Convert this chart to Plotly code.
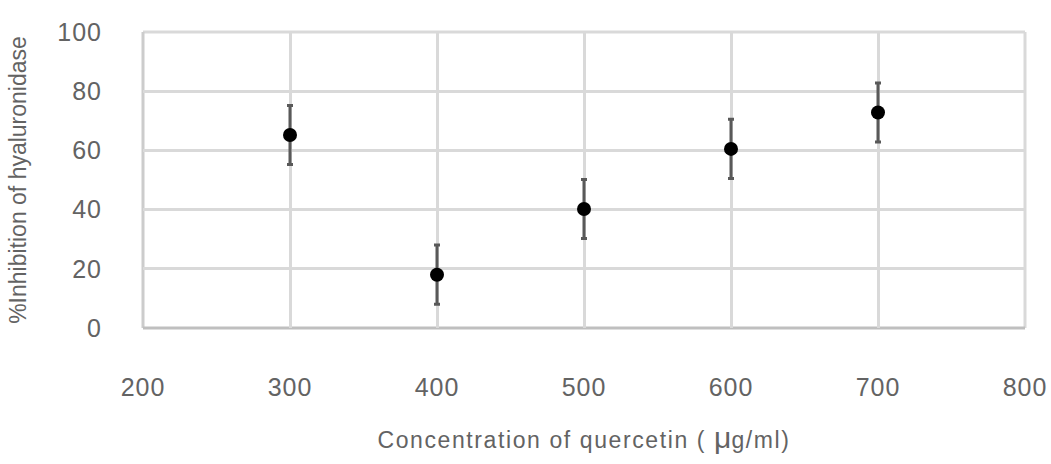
import plotly.graph_objects as go

concentration = [300, 400, 500, 600, 700]
inhibition = [65.2, 18.0, 40.2, 60.5, 72.8]
error = [10, 10, 10, 10, 10]

x_ticks = [200, 300, 400, 500, 600, 700, 800]
y_ticks = [0, 20, 40, 60, 80, 100]

SP = "<span style='letter-spacing:1px'>{}</span>"
TXT = "#636363"

fig = go.Figure()
fig.add_trace(go.Scatter(
    x=concentration, y=inhibition, mode="markers",
    marker=dict(color="black", size=14),
    error_y=dict(type="data", array=error, visible=True, color="#595959", thickness=3, width=3),
    showlegend=False,
))

font_family = "Liberation Sans, Arial, sans-serif"
grid = "#d9d9d9"
fig.update_layout(
    width=1051, height=464,
    margin=dict(l=143, r=26, t=32, b=136),
    paper_bgcolor="white", plot_bgcolor="white",
    font=dict(family=font_family, color=TXT, size=20),
    xaxis=dict(
        range=[200, 800], tickvals=x_ticks, ticktext=[SP.format(v) for v in x_ticks],
        showgrid=True, gridcolor=grid, gridwidth=3, automargin=False,
        showline=False, zeroline=False, ticks="", ticklabelstandoff=42,
        tickfont=dict(size=25, color=TXT),
        title=dict(text="<span style='letter-spacing:1.6px'>Concentration of quercetin ( </span>"
                        "<span style='font-size:30px'>μ</span>"
                        "<span style='letter-spacing:1.6px'>g/ml)</span>",
                   font=dict(size=23, color=TXT), standoff=31),
    ),
    yaxis=dict(
        range=[0, 100], tickvals=y_ticks, ticktext=[SP.format(v) for v in y_ticks],
        showgrid=True, gridcolor=grid, gridwidth=3, automargin=False,
        showline=False, zeroline=False, ticks="", ticklabelstandoff=40,
        tickfont=dict(size=25, color=TXT),
        title=dict(text="%Inhibition of hyaluronidase", font=dict(size=23, color=TXT), standoff=24),
    ),
)
# plot-area border lines drawn where the reference shows them
fig.add_shape(type="line", xref="paper", yref="paper", x0=0, x1=1, y0=1, y1=1,
              line=dict(color=grid, width=3), layer="below")
fig.add_shape(type="line", xref="paper", yref="paper", x0=1, x1=1, y0=0, y1=1,
              line=dict(color=grid, width=3), layer="below")
fig.add_shape(type="line", xref="paper", yref="paper", x0=0, x1=0, y0=0, y1=1,
              line=dict(color="#cccccc", width=3), layer="below")
fig.add_shape(type="line", xref="paper", yref="paper", x0=0, x1=1, y0=0, y1=0,
              line=dict(color="#bfbfbf", width=3), layer="below")
fig.write_html("out.html")
